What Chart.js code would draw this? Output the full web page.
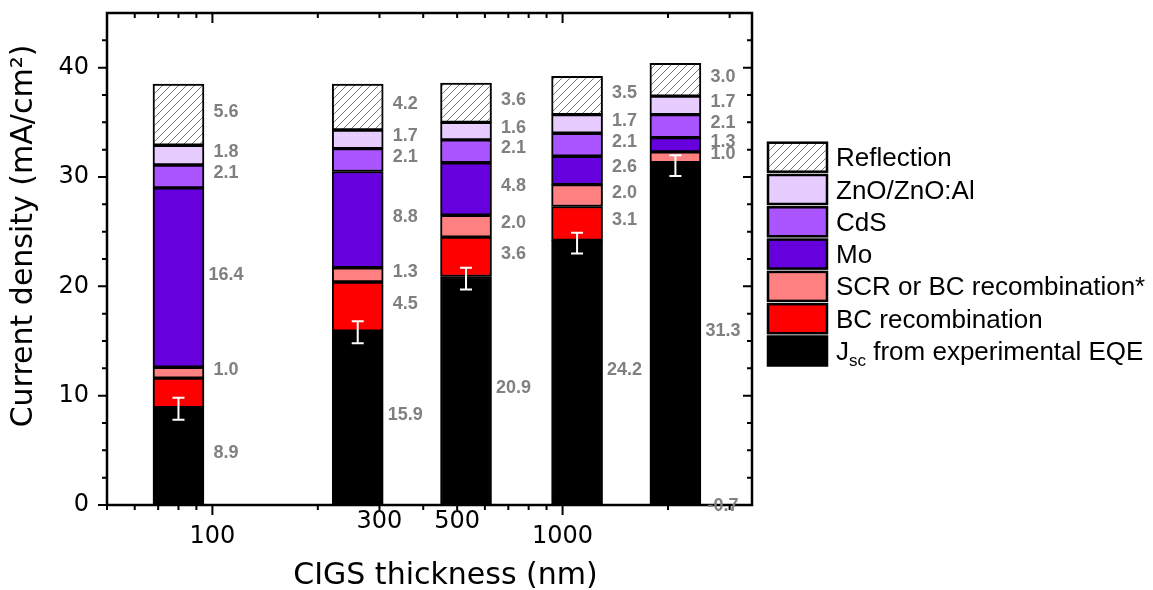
<!DOCTYPE html>
<html>
<head>
<meta charset="utf-8">
<script src="https://cdn.jsdelivr.net/npm/chart.js@4"></script>
<style>
  html, body { margin: 0; padding: 0; background: #fff; }
  #wrap { width: 1153px; height: 590px; }
</style>
</head>
<body>
<div id="wrap"><canvas id="chart" width="1153" height="590"></canvas></div>
<script>
// CIGS thickness (nm) of each cell
const thickness = [80, 260, 530, 1100, 2100];

// current density (mA/cm²), stacked from bottom to top
const jsc = [8.9, 15.9, 20.9, 24.2, 31.3];
const bcRecombination = [2.7, 4.5, 3.6, 3.1, -0.7];
const scrOrBc = [1.0, 1.3, 2.0, 2.0, 1.0];
const mo = [16.4, 8.8, 4.8, 2.6, 1.3];
const cds = [2.1, 2.1, 2.1, 2.1, 2.1];
const zno = [1.8, 1.7, 1.6, 1.7, 1.7];
const reflection = [5.6, 4.2, 3.6, 3.5, 3.0];

// error bar of the experimental Jsc
const jscErrLow = [7.8, 14.8, 19.7, 23.0, 30.1];
const jscErrHigh = [9.8, 16.8, 21.7, 24.9, 32.0];

// axis ticks
const xTickLabels = [100, 300, 500, 1000];
const xMajorTicks = [100, 1000];
const xMinorTicks = [50, 60, 70, 80, 90, 200, 300, 400, 500, 600, 700, 800, 900, 2000, 3000];
const yMajorTicks = [0, 10, 20, 30, 40];
const yMinorTicks = [2.5, 5, 7.5, 12.5, 15, 17.5, 22.5, 25, 27.5, 32.5, 35, 37.5, 42.5];

// hatch fill for the reflection part
function makeHatch() {
    const c = document.createElement('canvas');
    c.width = 8;
    c.height = 8;
    const g = c.getContext('2d');
    g.fillStyle = '#ffffff';
    g.fillRect(0, 0, 8, 8);
    g.strokeStyle = '#6a6a6a';
    g.lineWidth = 0.9;
    g.beginPath();
    g.moveTo(0, 8); g.lineTo(8, 0);
    g.moveTo(-1, 1); g.lineTo(1, -1);
    g.moveTo(7, 9); g.lineTo(9, 7);
    g.stroke();
    return g.createPattern(c, 'repeat');
}

function points(values) {
    return values.map((v, i) => ({ x: thickness[i], y: v }));
}

const hatch = makeHatch();

const datasets = [
    { label: 'Jsc from experimental EQE', data: points(jsc), backgroundColor: '#000000' },
    { label: 'BC recombination', data: points(bcRecombination), backgroundColor: '#ff0000', noLabel: [0] },
    { label: 'SCR or BC recombination*', data: points(scrOrBc), backgroundColor: '#ff8080' },
    { label: 'Mo', data: points(mo), backgroundColor: '#6600dd' },
    { label: 'CdS', data: points(cds), backgroundColor: '#aa55ff' },
    { label: 'ZnO/ZnO:Al', data: points(zno), backgroundColor: '#e6ccff' },
    { label: 'Reflection', data: points(reflection), backgroundColor: hatch },
].map(ds => Object.assign(ds, {
    borderColor: '#000000',
    borderWidth: 2,
    borderSkipped: false,
    barThickness: 51,
}));

const axisFont = '"DejaVu Sans", sans-serif';
const textFont = '"Liberation Sans", Arial, sans-serif';

// frame, ticks, error bars, value labels, axis titles and legend
const decorations = {
    id: 'decorations',
    afterDatasetsDraw(chart) {
        const ctx = chart.ctx;
        const a = chart.chartArea;
        const x = chart.scales.x;
        const y = chart.scales.y;
        ctx.save();

        // error bars
        ctx.strokeStyle = '#ffffff';
        ctx.lineWidth = 2;
        ctx.beginPath();
        thickness.forEach((t, i) => {
            const px = x.getPixelForValue(t);
            const y1 = y.getPixelForValue(jscErrLow[i]);
            const y2 = y.getPixelForValue(jscErrHigh[i]);
            ctx.moveTo(px, y1); ctx.lineTo(px, y2);
            ctx.moveTo(px - 6, y1); ctx.lineTo(px + 6, y1);
            ctx.moveTo(px - 6, y2); ctx.lineTo(px + 6, y2);
        });
        ctx.stroke();

        // frame
        ctx.strokeStyle = '#000000';
        ctx.lineWidth = 2.5;
        ctx.strokeRect(a.left, a.top, a.right - a.left, a.bottom - a.top);

        // tick marks
        ctx.lineWidth = 2;
        ctx.beginPath();
        const tick = (x1, y1, x2, y2) => { ctx.moveTo(x1, y1); ctx.lineTo(x2, y2); };
        yMajorTicks.forEach(v => {
            const p = y.getPixelForValue(v);
            tick(a.left - 9, p, a.left, p);
            tick(a.right - 9, p, a.right, p);
        });
        yMinorTicks.forEach(v => {
            const p = y.getPixelForValue(v);
            tick(a.left - 5, p, a.left, p);
            tick(a.right - 5, p, a.right, p);
        });
        xMajorTicks.forEach(v => {
            const p = x.getPixelForValue(v);
            tick(p, a.bottom, p, a.bottom + 10);
            tick(p, a.top, p, a.top + 10);
        });
        xMinorTicks.forEach(v => {
            const p = x.getPixelForValue(v);
            tick(p, a.bottom, p, a.bottom + 5);
            tick(p, a.top, p, a.top + 5);
        });
        ctx.stroke();

        // x tick labels (300 and 500 sit higher in the original)
        ctx.fillStyle = '#000000';
        ctx.font = '24px ' + axisFont;
        ctx.textAlign = 'center';
        ctx.textBaseline = 'middle';
        const raised = [300, 500];
        xTickLabels.forEach(v => {
            const yy = raised.includes(v) ? a.bottom + 17 : a.bottom + 32;
            ctx.fillText(String(v), x.getPixelForValue(v), yy);
        });

        // axis titles
        ctx.font = '30px ' + axisFont;
        ctx.fillText('CIGS thickness (nm)', (a.left + a.right) / 2 + 16, a.bottom + 71);
        ctx.save();
        ctx.translate(24, 236);
        ctx.rotate(-Math.PI / 2);
        ctx.font = '30px ' + axisFont;
        ctx.fillText('Current density (mA/cm²)', 0, 0);
        ctx.restore();

        // value labels beside each segment
        ctx.fillStyle = '#808080';
        ctx.font = 'bold 18px ' + textFont;
        chart.data.datasets.forEach((ds, di) => {
            const meta = chart.getDatasetMeta(di);
            meta.data.forEach((bar, i) => {
                if (ds.noLabel && ds.noLabel.includes(i)) return;
                const mid = (bar.y + bar.base) / 2 - 3;
                ctx.fillText(ds.data[i].y.toFixed(1), bar.x + 47.5, mid);
            });
        });

        // legend, top item = last dataset
        const lx = a.right + 16;
        const top = 142.7;
        const pitch = 32.3;
        const items = chart.data.datasets.slice().reverse();
        items.forEach((ds, k) => {
            const by = top + k * pitch;
            ctx.fillStyle = ds.backgroundColor;
            ctx.fillRect(lx, by, 59, 29);
            ctx.strokeStyle = '#000000';
            ctx.lineWidth = 2.5;
            ctx.strokeRect(lx, by, 59, 29);
            ctx.fillStyle = '#000000';
            ctx.textAlign = 'left';
            ctx.textBaseline = 'alphabetic';
            const base = by + 23.5;
            const tx = lx + 68;
            ctx.font = '26px ' + textFont;
            if (ds.label.startsWith('Jsc')) {
                ctx.fillText('J', tx, base);
                let w = ctx.measureText('J').width;
                ctx.font = '17px ' + textFont;
                ctx.fillText('sc', tx + w, base + 6);
                w += ctx.measureText('sc').width;
                ctx.font = '26px ' + textFont;
                ctx.fillText(ds.label.slice(3), tx + w, base);
            } else {
                ctx.fillText(ds.label, tx, base);
            }
        });

        ctx.restore();
    }
};

const ctx = document.getElementById('chart').getContext('2d');
const chart = new Chart(ctx, {
    type: 'bar',
    data: { datasets: datasets },
    options: {
        responsive: false,
        animation: false,
        events: [],
        layout: { padding: { top: 13, right: 401, left: 0, bottom: 0 } },
        plugins: {
            legend: { display: false },
            tooltip: { enabled: false },
        },
        scales: {
            x: {
                type: 'logarithmic',
                stacked: true,
                min: 50,
                max: 3475,
                grid: { display: false, drawTicks: false },
                border: { display: false },
                ticks: { display: false },
                afterFit: s => { s.height = 85; },
            },
            y: {
                stacked: true,
                min: 0,
                max: 45,
                grid: { display: false, drawTicks: false },
                border: { display: false },
                ticks: {
                    stepSize: 10,
                    includeBounds: false,
                    padding: 18,
                    color: '#000000',
                    font: { family: 'DejaVu Sans', size: 24 },
                },
                afterFit: s => { s.width = 107; s.paddingTop = 0; s.paddingBottom = 0; },
            },
        },
    },
    plugins: [decorations],
});
</script>
</body>
</html>
